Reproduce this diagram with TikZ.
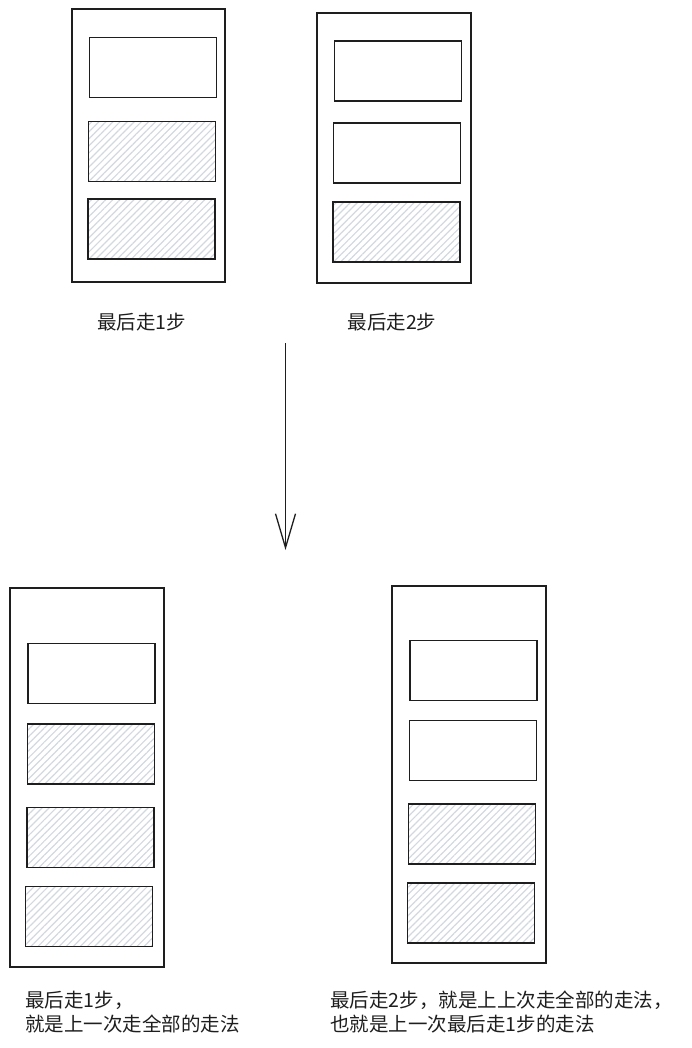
\documentclass[tikz,border=0pt]{standalone}
\usepackage{fontspec}
\newfontfamily\cjk{Noto Sans CJK SC}
\usetikzlibrary{arrows.meta,patterns.meta}
\definecolor{ink}{HTML}{1E1E1E}
\definecolor{hatch}{HTML}{D3D8DF}
\tikzset{
  frame/.style={draw=ink, line width=1.5pt, inner sep=0pt, minimum width=#1},
  slot/.style={draw=ink, line width=1.5pt, inner sep=0pt, minimum width=127pt, minimum height=60pt},
  filled/.style={slot, pattern={Lines[angle=45,distance=5pt,line width=1.2pt]}, pattern color=hatch},
  label/.style={font=\cjk\fontsize{19.5}{24.5}\selectfont, text=ink, inner sep=0pt, align=left},
  flow/.style={draw=ink, line width=1.3pt, -{Straight Barb[length=34pt,width=20pt,line width=1.3pt]}}
}
\begin{document}
\begin{tikzpicture}[x=1pt,y=-1pt]
\useasboundingbox (0,0) rectangle (692,1048);
% top-left
\node[frame=153pt, minimum height=273pt] (tl) at (148.5,145.5) {};
\node[slot] (tl1) at (153,67.5) {};
\node[filled] (tl2) at (152,151.5) {};
\node[filled] (tl3) at (151.5,229) {};
\node[label] (tlt) at (141.5,322) {最后走1步};
% top-right
\node[frame=154pt, minimum height=270pt] (tr) at (394,148) {};
\node[slot] (tr1) at (398,71) {};
\node[slot] (tr2) at (397,153) {};
\node[filled] (tr3) at (396.5,232) {};
\node[label] (trt) at (392,322) {最后走2步};
% arrow
\coordinate (a1) at (285.5,343);
\coordinate (a2) at (285.5,550);
\draw[flow] (a1) -- (a2);
% bottom-left
\node[frame=154pt, minimum height=379pt] (bl) at (87,777.5) {};
\node[slot] (bl1) at (91.5,673.5) {};
\node[filled] (bl2) at (91,754) {};
\node[filled] (bl3) at (90.5,837.5) {};
\node[filled] (bl4) at (89,916.5) {};
\node[label, anchor=west] (blt) at (25,1012) {最后走1步，\\就是上一次走全部的走法};
% bottom-right
\node[frame=154pt, minimum height=377pt] (br) at (469,774.5) {};
\node[slot] (br1) at (473.5,670.5) {};
\node[slot] (br2) at (473,750.5) {};
\node[filled] (br3) at (472,834) {};
\node[filled] (br4) at (471,913) {};
\node[label, anchor=west] (brt) at (330,1012) {最后走2步，就是上上次走全部的走法，\\也就是上一次最后走1步的走法};
\end{tikzpicture}
\end{document}
